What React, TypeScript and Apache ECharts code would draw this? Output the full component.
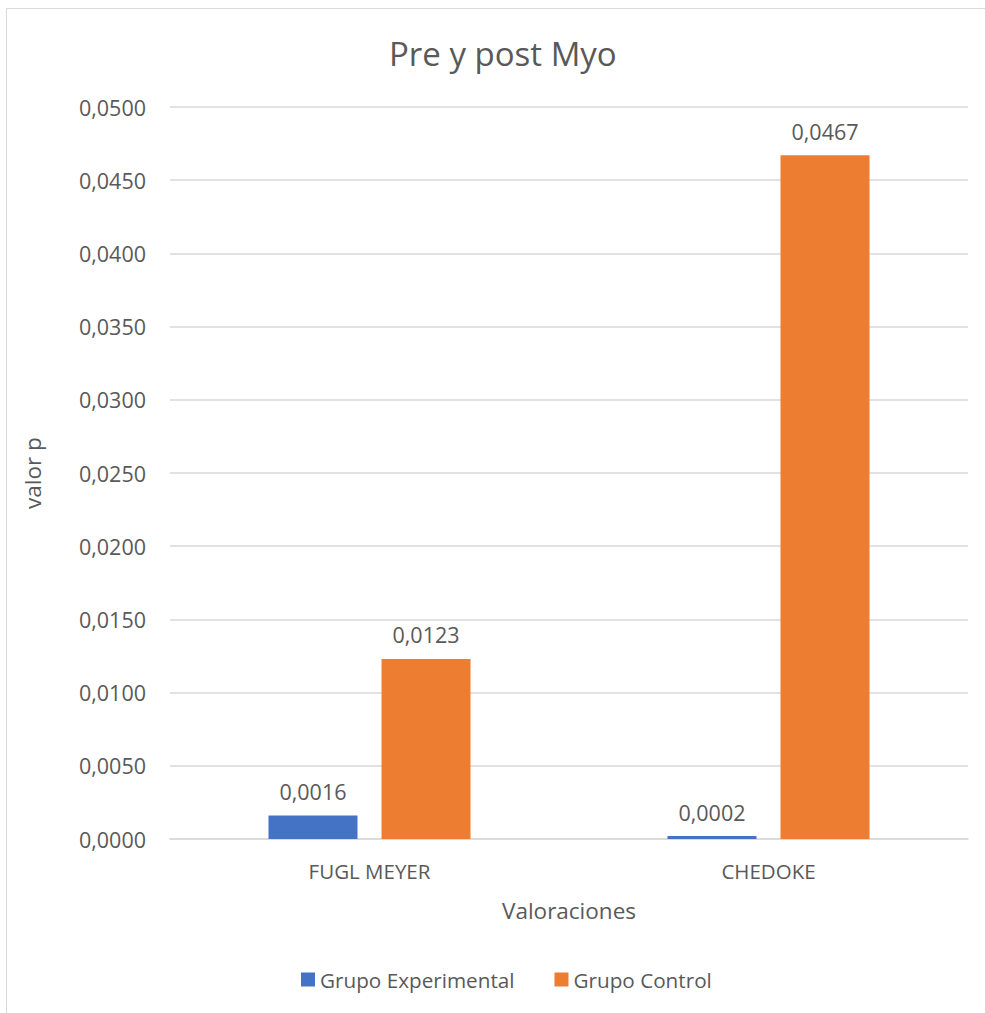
import React, { useEffect, useRef } from "react";
import * as echarts from "echarts";

const categories = ["FUGL MEYER", "CHEDOKE"];
const experimental = [0.0016, 0.0002];
const control = [0.0123, 0.0467];
const seriesNames = ["Grupo Experimental", "Grupo Control"];
const colors = ["#4472C4", "#ED7D31"];

const fmt = (v: number) => v.toFixed(4).replace(".", ",");
const FONT = "'Open Sans', 'Noto Sans', sans-serif";
const TXT = "#595959";

export default function App() {
  const ref = useRef<HTMLDivElement>(null);
  useEffect(() => {
    document.body.style.margin = "0";
    const chart = echarts.init(ref.current!, null, { renderer: "svg" });
    const label = {
      show: true,
      position: "top",
      distance: 13,
      color: TXT,
      fontFamily: FONT,
      fontSize: 21.5,
      formatter: (p: any) => fmt(p.value),
    };
    chart.setOption({
      animation: false,
      backgroundColor: "#ffffff",
      textStyle: { fontFamily: FONT, color: TXT },
      title: {
        text: "Pre y post Myo",
        left: 384,
        top: 32,
        textStyle: { fontFamily: FONT, color: TXT, fontSize: 33, fontWeight: "normal" },
      },
      graphic: [
        {
          type: "rect",
          shape: { x: 6.5, y: 8.5, width: 1000, height: 1020 },
          style: { fill: "none", stroke: "#d9d9d9", lineWidth: 1 },
          silent: true,
        },
      ],
      legend: {
        bottom: 18,
        left: 296,
        itemWidth: 14,
        itemHeight: 14,
        itemGap: 40,
        icon: "rect",
        textStyle: { fontFamily: FONT, color: TXT, fontSize: 20.7 },
        data: seriesNames,
      },
      grid: { left: 170, right: 17, top: 107, bottom: 174 },
      xAxis: {
        type: "category",
        data: categories,
        name: "Valoraciones",
        nameLocation: "middle",
        nameGap: 60,
        nameTextStyle: { fontFamily: FONT, color: TXT, fontSize: 22.5 },
        axisLine: { lineStyle: { color: "#d9d9d9", width: 1.5 } },
        axisTick: { show: false },
        axisLabel: { color: TXT, fontFamily: FONT, fontSize: 20.5, margin: 21 },
      },
      yAxis: {
        type: "value",
        min: 0,
        max: 0.05,
        interval: 0.005,
        name: "valor p",
        nameLocation: "middle",
        nameGap: 126,
        nameTextStyle: { fontFamily: FONT, color: TXT, fontSize: 22.5 },
        axisLine: { show: false },
        axisTick: { show: false },
        splitLine: { lineStyle: { color: "#d9d9d9", width: 1.5 } },
        axisLabel: { color: TXT, fontFamily: FONT, fontSize: 21.5, margin: 24, formatter: fmt },
      },
      series: [
        {
          name: seriesNames[0],
          type: "bar",
          data: experimental,
          barWidth: 89,
          barGap: "27%",
          itemStyle: { color: colors[0] },
          label,
        },
        {
          name: seriesNames[1],
          type: "bar",
          data: control,
          barWidth: 89,
          barGap: "27%",
          itemStyle: { color: colors[1] },
          label,
        },
      ],
    });
    return () => chart.dispose();
  }, []);
  return <div ref={ref} style={{ width: 985, height: 1013 }} />;
}
